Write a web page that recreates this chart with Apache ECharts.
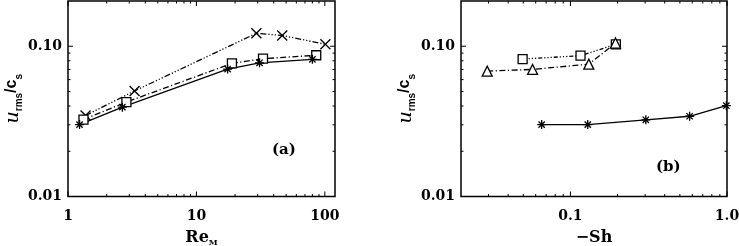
<!DOCTYPE html>
<html><head><meta charset="utf-8">
<script src="https://cdn.jsdelivr.net/npm/echarts@6/dist/echarts.min.js"></script>
<style>html,body{margin:0;padding:0;background:#fff}#c{width:739px;height:246px}</style>
</head><body><div id="c"></div>
<script>
// ---- Panel (a): u_rms/c_s vs Re_M ----
const reA_star = [1.23, 2.65, 17.5, 31, 80];
const uA_star  = [0.0301, 0.0393, 0.0705, 0.0776, 0.0818];
const reA_sq   = [1.32, 2.85, 18.9, 33, 85.7];
const uA_sq    = [0.0325, 0.0425, 0.0769, 0.0826, 0.0871];
const reA_x    = [1.37, 3.3, 29.3, 46.6, 101];
const uA_x     = [0.0346, 0.0504, 0.122, 0.118, 0.103];
// ---- Panel (b): u_rms/c_s vs -Sh ----
const shB_sq   = [0.0495, 0.116, 0.195];
const uB_sq    = [0.0822, 0.0865, 0.103];
const shB_tri  = [0.0294, 0.0573, 0.131, 0.194];
const uB_tri   = [0.0683, 0.0701, 0.076, 0.105];
const shB_star = [0.0655, 0.129, 0.303, 0.577, 0.99];
const uB_star  = [0.0301, 0.0301, 0.0324, 0.0342, 0.0402];

// ---- axis ranges and ticks ----
const xRangeA = [1, 120];
const xRangeB = [0.02, 1];
const yRange  = [0.01, 0.2];
const xMajorA = [1, 10, 100];
const xLabelsA = ['1', '10', '100'];
const xMinorA = [2,3,4,5,6,7,8,9,20,30,40,50,60,70,80,90];
const xMajorB = [0.1, 1];
const xLabelsB = ['0.1', '1.0'];
const xMinorB = [0.03,0.04,0.05,0.06,0.07,0.08,0.09,0.2,0.3,0.4,0.5,0.6,0.7,0.8,0.9];
const yMajor = [0.01, 0.1];
const yLabels = ['0.01', '0.10'];
const yMinor = [0.02,0.03,0.04,0.05,0.06,0.07,0.08,0.09];

const FONT = 'DejaVu Serif';
const SANS = 'Liberation Sans';
const zip = (a, b) => a.map((v, i) => [v, b[i]]);

const SYM_STAR = 'path://M0,-10L0,10M-10,0L10,0M-7,-7L7,7M-7,7L7,-7';
const SYM_X = 'path://M-10,-10L10,10M-10,10L10,-10';

function labelFmt(vals, labels) {
  return function (v) {
    for (let i = 0; i < vals.length; i++) {
      if (Math.abs(Math.log10(v) - Math.log10(vals[i])) < 1e-6) return labels[i];
    }
    return '';
  };
}

// side: 'bottom' | 'top' | 'left' | 'right'
function tickSeries(gi, side, values, len, xr, yr) {
  const isX = side === 'bottom' || side === 'top';
  return {
    type: 'custom', xAxisIndex: gi, yAxisIndex: gi, silent: true, z: 5,
    data: values.map(v => isX ? [v, yr[0]] : [xr[0], v]),
    renderItem: function (params, api) {
      let x1, y1, x2, y2;
      if (isX) {
        const v = api.value(0);
        const p = api.coord([v, side === 'bottom' ? yr[0] : yr[1]]);
        x1 = x2 = p[0]; y1 = p[1]; y2 = side === 'bottom' ? p[1] - len : p[1] + len;
      } else {
        const v = api.value(1);
        const p = api.coord([side === 'left' ? xr[0] : xr[1], v]);
        y1 = y2 = p[1]; x1 = p[0]; x2 = side === 'left' ? p[0] + len : p[0] - len;
      }
      return { type: 'line', shape: { x1: x1, y1: y1, x2: x2, y2: y2 }, style: { stroke: '#000', lineWidth: 1 } };
    }
  };
}

function allTicks(gi, xMaj, xMin, xr) {
  const out = [];
  ['bottom', 'top'].forEach(s => { out.push(tickSeries(gi, s, xMaj, 5, xr, yRange)); out.push(tickSeries(gi, s, xMin, 2.5, xr, yRange)); });
  ['left', 'right'].forEach(s => { out.push(tickSeries(gi, s, yMajor, 5, xr, yRange)); out.push(tickSeries(gi, s, yMinor, 2.5, xr, yRange)); });
  return out;
}

const richY = {
  u: { fontFamily: FONT, fontStyle: 'italic', fontSize: 19, lineHeight: 20, verticalAlign: 'top', color: '#000' },
  n: { fontFamily: SANS, fontSize: 16, fontWeight: 'bold', lineHeight: 20, verticalAlign: 'top', color: '#000' },
  s: { fontFamily: SANS, fontSize: 10, fontWeight: 'bold', lineHeight: 10, verticalAlign: 'bottom', color: '#000' }
};
const yName = '{u|u}{s|rms}{n|/c}{s|s}';

function yAxisDef(gi) {
  return {
    type: 'log', gridIndex: gi, min: yRange[0], max: yRange[1],
    axisLine: { show: false }, axisTick: { show: false }, splitLine: { show: false },
    axisLabel: { formatter: labelFmt(yMajor, yLabels), margin: 6, color: '#000', fontSize: 14, fontFamily: FONT, fontWeight: 'bold' },
    name: yName, nameLocation: 'middle', nameGap: 41,
    nameTextStyle: { rich: richY }
  };
}

function xAxisDef(gi, range, maj, labs, nameStr, rich) {
  return {
    type: 'log', gridIndex: gi, min: range[0], max: range[1],
    axisLine: { show: false }, axisTick: { show: false }, splitLine: { show: false },
    axisLabel: { formatter: labelFmt(maj, labs), margin: 13, color: '#000', fontSize: 14, fontFamily: FONT, fontWeight: 'bold', showMaxLabel: true, showMinLabel: true },
    name: nameStr, nameLocation: 'middle', nameGap: 33,
    nameTextStyle: { rich: rich }
  };
}

const richXA = {
  n: { fontFamily: FONT, fontSize: 16, fontWeight: 'bold', lineHeight: 17, verticalAlign: 'top', color: '#000' },
  s: { fontFamily: FONT, fontSize: 8, fontWeight: 'bold', lineHeight: 8, verticalAlign: 'bottom', color: '#000' }
};
const richXB = {
  n: { fontFamily: FONT, fontSize: 16, fontWeight: 'bold', lineHeight: 17, color: '#000' }
};

function lineSeries(gi, data, sym, size, dash, fill) {
  return {
    type: 'line', xAxisIndex: gi, yAxisIndex: gi, data: data,
    symbol: sym, symbolSize: size, showSymbol: true,
    lineStyle: { color: '#000', width: 1.3, type: dash },
    itemStyle: { color: fill, borderColor: '#000', borderWidth: 1.3 },
    animation: false, z: 3
  };
}

const chart = echarts.init(document.getElementById('c'), null, { renderer: 'canvas' });
chart.setOption({
  animation: false,
  backgroundColor: '#fff',
  grid: [
    { left: 68, top: 1, width: 267, height: 195.5, show: true, borderColor: '#000', borderWidth: 1.5, backgroundColor: 'transparent', outerBoundsMode: 'none', containLabel: false },
    { left: 461, top: 1, width: 266, height: 195.5, show: true, borderColor: '#000', borderWidth: 1.5, backgroundColor: 'transparent', outerBoundsMode: 'none', containLabel: false }
  ],
  xAxis: [
    xAxisDef(0, xRangeA, xMajorA, xLabelsA, '{n|Re}{s|M}', richXA),
    xAxisDef(1, xRangeB, xMajorB, xLabelsB, '{n|\u2212Sh}', richXB)
  ],
  yAxis: [yAxisDef(0), yAxisDef(1)],
  graphic: [
    { type: 'text', left: 272, top: 143, style: { text: '(a)', font: 'bold 15px "DejaVu Serif"', fill: '#000' } },
    { type: 'text', left: 656, top: 160, style: { text: '(b)', font: 'bold 15px "DejaVu Serif"', fill: '#000' } }
  ],
  series: [
    lineSeries(0, zip(reA_x, uA_x), SYM_X, 10, [6, 2, 1.2, 2, 1.2, 2, 1.2, 2], 'transparent'),
    lineSeries(0, zip(reA_sq, uA_sq), 'rect', 9, [6, 2.5, 1.2, 2.5], '#fff'),
    lineSeries(0, zip(reA_star, uA_star), SYM_STAR, 9, 'solid', 'transparent'),
    lineSeries(1, zip(shB_sq, uB_sq), 'rect', 9, [4, 2, 1.2, 2, 1.2, 2, 1.2, 2], '#fff'),
    lineSeries(1, zip(shB_tri, uB_tri), 'triangle', 10, [6, 2.5, 1.2, 2.5], '#fff'),
    lineSeries(1, zip(shB_star, uB_star), SYM_STAR, 9, 'solid', 'transparent')
  ].concat(allTicks(0, xMajorA, xMinorA, xRangeA), allTicks(1, xMajorB, xMinorB, xRangeB))
});
</script>
</body></html>
